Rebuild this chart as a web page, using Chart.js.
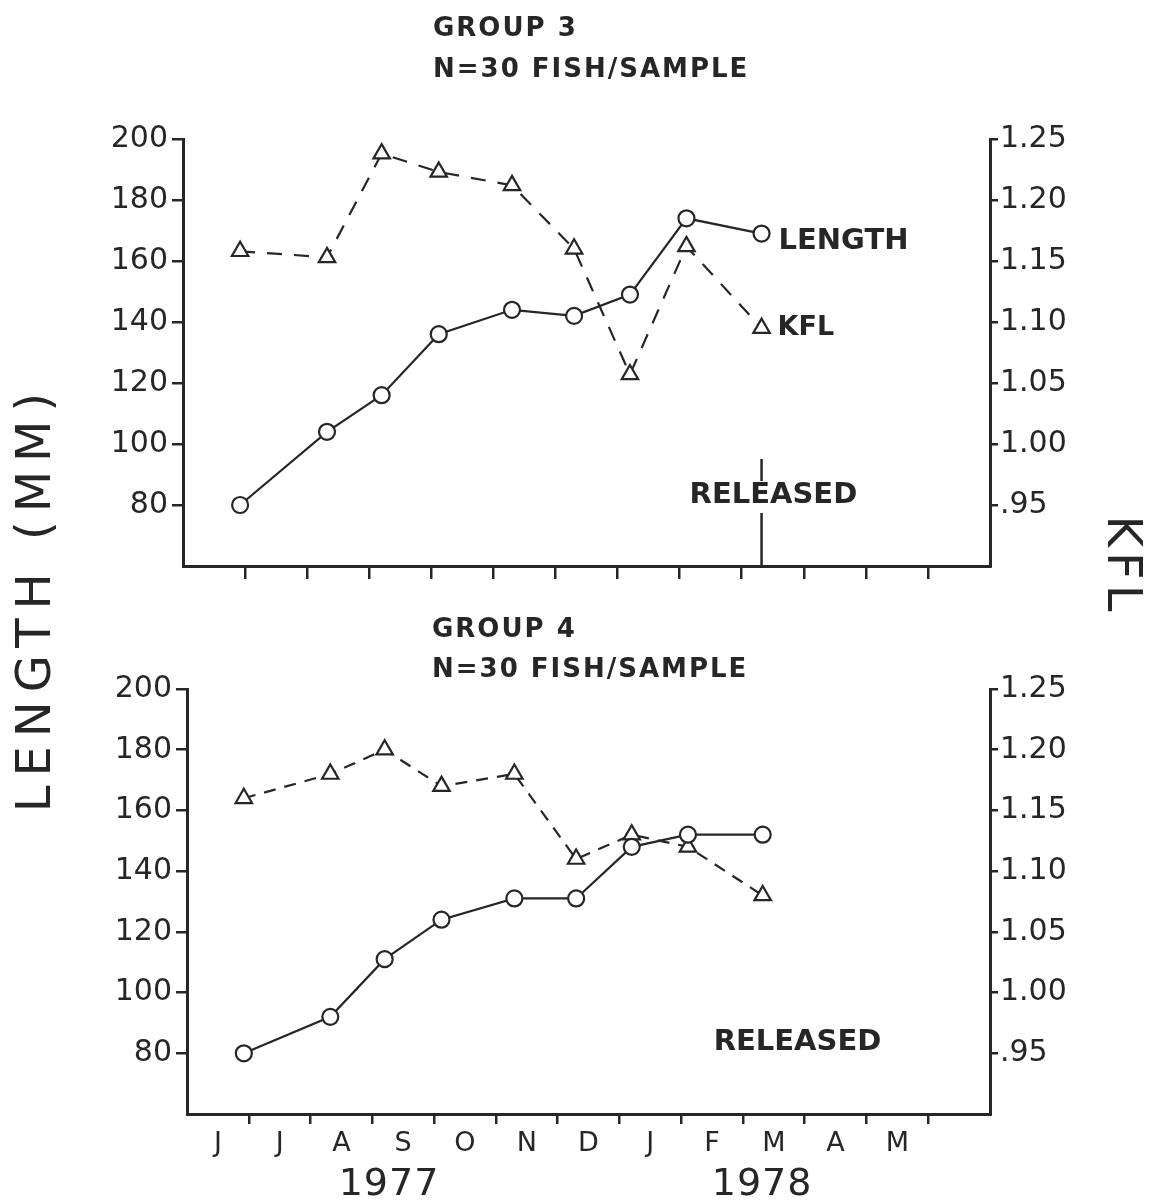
<!DOCTYPE html>
<html>
<head>
<meta charset="utf-8">
<script src="https://cdn.jsdelivr.net/npm/chart.js@4"></script>
<style>
  html, body { margin: 0; padding: 0; background: #fff; }
  #wrap { position: relative; width: 1151px; height: 1204px; }
  canvas { position: absolute; left: 0; }
  #top { top: 0; }
  #bottom { top: 600px; }
</style>
</head>
<body>
<div id="wrap">
  <canvas id="top" width="1151" height="1204"></canvas>
  <canvas id="bottom" width="1151" height="604"></canvas>
</div>
<script>
// sampling dates, in months counted from 1 June 1977
const sampleMonths = [0.92, 2.32, 3.2, 4.12, 5.3, 6.3, 7.2, 8.11, 9.32];

// group 3
const lengthG3 = [80, 104, 116, 136, 144, 142, 149, 174, 169];
const kflG3 = [1.158, 1.153, 1.238, 1.223, 1.212, 1.160, 1.057, 1.162, 1.095];

// group 4
const lengthG4 = [80, 92, 111, 124, 131, 131, 148, 152, 152];
const kflG4 = [1.16, 1.18, 1.20, 1.17, 1.18, 1.11, 1.13, 1.12, 1.08];

// axes
const lengthTicks = [80, 100, 120, 140, 160, 180, 200];
const kflTicks = [0.95, 1.00, 1.05, 1.10, 1.15, 1.20, 1.25];
const kflTickLabels = ['.95', '1.00', '1.05', '1.10', '1.15', '1.20', '1.25'];
const monthLabels = ['J', 'J', 'A', 'S', 'O', 'N', 'D', 'J', 'F', 'M', 'A', 'M'];
const yearLabels = ['1977', '1978'];
const yearAt = [3.27, 9.31];
const releasedAt = 9.32;

const ink = '#262626';
Chart.defaults.font.family = '"DejaVu Sans"';
Chart.defaults.color = ink;

function text(ctx, str, x, y, size, spacing, align, weight) {
  ctx.save();
  ctx.font = (weight || 'bold') + ' ' + size + 'px "DejaVu Sans"';
  ctx.fillStyle = ink;
  ctx.letterSpacing = (spacing || 0) + 'px';
  ctx.textAlign = align || 'left';
  ctx.textBaseline = 'alphabetic';
  ctx.fillText(str, x, y);
  ctx.restore();
}

function rule(ctx, x1, y1, x2, y2) {
  ctx.save();
  ctx.strokeStyle = ink;
  ctx.lineWidth = 2.5;
  ctx.beginPath();
  ctx.moveTo(x1, y1);
  ctx.lineTo(x2, y2);
  ctx.stroke();
  ctx.restore();
}

function points(ys) {
  return sampleMonths.map((m, i) => ({ x: m, y: ys[i] }));
}

function panel(canvas, lengths, kfl, box, dash, showMonths, drawText) {
  return new Chart(canvas, {
    type: 'line',
    data: {
      datasets: [{
        label: 'LENGTH',
        data: points(lengths),
        yAxisID: 'y',
        borderColor: ink,
        borderWidth: 2.2,
        pointStyle: 'circle',
        pointRadius: 8,
        pointBorderWidth: 2.2,
        pointBorderColor: ink,
        pointBackgroundColor: '#fff',
        tension: 0
      }, {
        label: 'KFL',
        data: points(kfl),
        yAxisID: 'y1',
        borderColor: ink,
        borderWidth: 2.2,
        borderDash: dash,
        pointStyle: 'triangle',
        pointRadius: 9.5,
        pointBorderWidth: 2.2,
        pointBorderColor: ink,
        pointBackgroundColor: '#fff',
        tension: 0
      }]
    },
    options: {
      responsive: false,
      animation: false,
      events: [],
      layout: { padding: { top: box.top, left: 0, right: 0, bottom: 0 } },
      plugins: { legend: { display: false }, tooltip: { enabled: false } },
      scales: {
        x: {
          type: 'linear',
          min: 0,
          max: 13,
          afterBuildTicks: s => {
            const t = [];
            monthLabels.forEach((m, i) => {
              if (showMonths) t.push({ value: i + 0.5 });
              t.push({ value: i + 1 });
            });
            s.ticks = t;
          },
          afterFit: s => { s.height = box.xHeight; },
          border: { display: true, color: ink, width: 3 },
          grid: {
            drawOnChartArea: false,
            tickLength: box.xTick,
            lineWidth: 2.5,
            tickWidth: 2.5,
            tickColor: c => Number.isInteger(c.tick.value) ? ink : 'rgba(0,0,0,0)'
          },
          ticks: {
            display: showMonths,
            autoSkip: false,
            maxRotation: 0,
            minRotation: 0,
            padding: 4,
            font: { size: 27 },
            color: ink,
            callback: v => Number.isInteger(v) ? '' : monthLabels[Math.floor(v)]
          }
        },
        y: {
          type: 'linear',
          position: 'left',
          min: 60,
          max: 200,
          afterBuildTicks: s => { s.ticks = lengthTicks.map(v => ({ value: v })); },
          afterFit: s => { s.width = box.left; },
          border: { display: true, color: ink, width: 3 },
          grid: { drawOnChartArea: false, tickLength: 11, lineWidth: 2.5, tickWidth: 2.5, tickColor: ink },
          ticks: { padding: 4, font: { size: 30 }, color: ink }
        },
        y1: {
          type: 'linear',
          position: 'right',
          min: 0.9,
          max: 1.25,
          afterBuildTicks: s => { s.ticks = kflTicks.map(v => ({ value: v })); },
          afterFit: s => { s.width = 1151 - box.right; },
          border: { display: true, color: ink, width: 3 },
          grid: { drawOnChartArea: false, tickLength: 8, lineWidth: 2.5, tickWidth: 2.5, tickColor: ink },
          ticks: {
            padding: 2,
            crossAlign: 'near',
            font: { size: 30 },
            color: ink,
            callback: (v, i) => kflTickLabels[i]
          }
        }
      }
    },
    plugins: [{ id: 'panelText', afterDraw: drawText }]
  });
}

// group 3, upper panel (canvas spans the page so the shared axis titles fit)
panel(document.getElementById('top'), lengthG3, kflG3,
  { top: 139, left: 183, right: 990, xHeight: 1204 - 566, xTick: 13 }, [15, 12], false,
  chart => {
    const ctx = chart.ctx;
    const xs = chart.scales.x;
    const last = sampleMonths.length - 1;
    text(ctx, 'GROUP 3', 433, 36, 26, 2);
    text(ctx, 'N=30 FISH/SAMPLE', 433, 77, 26, 2);

    const lx = xs.getPixelForValue(sampleMonths[last]);
    text(ctx, 'LENGTH', lx + 17, chart.scales.y.getPixelForValue(lengthG3[last]) + 15, 29, 0);
    text(ctx, 'KFL', lx + 16, chart.scales.y1.getPixelForValue(kflG3[last]) + 7, 27, 0);

    const rx = xs.getPixelForValue(releasedAt);
    text(ctx, 'RELEASED', rx - 72, 503, 29, 0);
    rule(ctx, rx, 459, rx, 481);
    rule(ctx, rx, 513, rx, chart.chartArea.bottom);

    // axis titles shared by both panels
    ctx.save();
    ctx.translate(50, 598);
    ctx.rotate(-Math.PI / 2);
    text(ctx, 'LENGTH (MM)', 0, 0, 48, 9, 'center', 'normal');
    ctx.restore();

    ctx.save();
    ctx.translate(1108, 566);
    ctx.rotate(Math.PI / 2);
    text(ctx, 'KFL', 0, 0, 48, 5, 'center', 'normal');
    ctx.restore();
  });

// group 4, lower panel
panel(document.getElementById('bottom'), lengthG4, kflG4,
  { top: 89, left: 187, right: 990, xHeight: 604 - 514, xTick: 10 }, [12, 9], true,
  chart => {
    const ctx = chart.ctx;
    const xs = chart.scales.x;
    text(ctx, 'GROUP 4', 432, 37, 26, 2);
    text(ctx, 'N=30 FISH/SAMPLE', 432, 77, 26, 2);

    const rx = xs.getPixelForValue(releasedAt);
    text(ctx, 'RELEASED', rx - 49, 450, 29, 0);

    yearLabels.forEach((y, i) => {
      text(ctx, y, xs.getPixelForValue(yearAt[i]), 595, 38, 1, 'center', 'normal');
    });
  });
</script>
</body>
</html>
